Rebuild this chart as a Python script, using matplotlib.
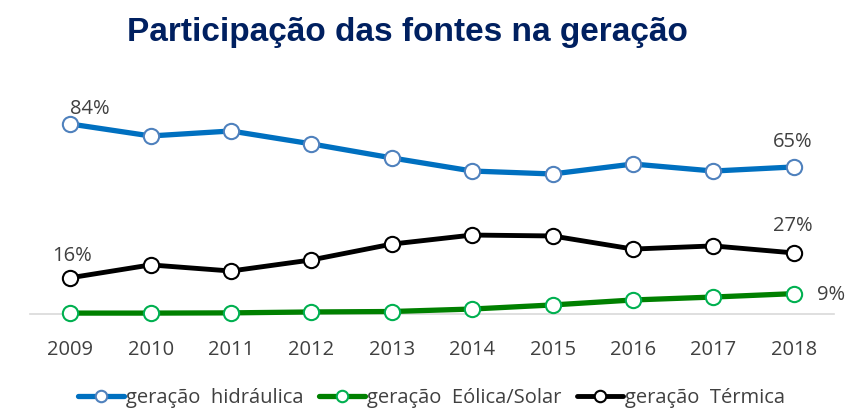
import matplotlib
matplotlib.use("Agg")
import matplotlib.pyplot as plt

anos = ["2009", "2010", "2011", "2012", "2013", "2014", "2015", "2016", "2017", "2018"]
hidraulica = [84, 78.7, 80.9, 75.2, 69.0, 63.2, 61.9, 66.3, 63.2, 65]
eolica_solar = [0.4, 0.4, 0.5, 0.9, 1.1, 2.2, 4.0, 6.2, 7.5, 9]
termica = [16, 21.7, 19.0, 23.9, 30.9, 34.9, 34.5, 28.7, 30.1, 27]

plt.rcParams['font.family'] = ['Open Sans', 'DejaVu Sans']

fig = plt.figure(figsize=(8.49, 4.09), dpi=100)
ax = fig.add_axes([30 / 849, 95 / 409, 804 / 849, 203.6 / 409])

x = list(range(len(anos)))
series = [
    (hidraulica, "geração  hidráulica", "#0070C0", "#4F81BD", 3.8),
    (eolica_solar, "geração  Eólica/Solar", "#008000", "#00B050", 3.8),
    (termica, "geração  Térmica", "#000000", "#000000", 3.5),
]
for vals, nome, cor, borda, lw in series:
    ax.plot(x, vals, color=cor, lw=lw, marker="o", markersize=11,
            markerfacecolor="white", markeredgecolor=borda, markeredgewidth=1.5,
            label=nome, solid_capstyle="round")

# rótulos de início e fim
lab = "#404040"
fs = 14.5
ax.annotate(f"{hidraulica[0]:.0f}%", (x[0], hidraulica[0]), xytext=(14, 10.5),
            textcoords="offset points", ha="center", va="center", fontsize=fs, color=lab)
ax.annotate(f"{termica[0]:.0f}%", (x[0], termica[0]), xytext=(1.5, 16),
            textcoords="offset points", ha="center", va="center", fontsize=fs, color=lab)
ax.annotate(f"{hidraulica[-1]:.0f}%", (x[-1], hidraulica[-1]), xytext=(-1, 18),
            textcoords="offset points", ha="center", va="center", fontsize=fs, color=lab)
ax.annotate(f"{termica[-1]:.0f}%", (x[-1], termica[-1]), xytext=(-1, 19.5),
            textcoords="offset points", ha="center", va="center", fontsize=fs, color=lab)
ax.annotate(f"{eolica_solar[-1]:.0f}%", (x[-1], eolica_solar[-1]), xytext=(27, -1),
            textcoords="offset points", ha="center", va="center", fontsize=fs, color=lab)

ax.set_xlim(-0.5, len(anos) - 0.5)
ax.set_ylim(0, 90)
ax.set_xticks(x)
ax.set_xticklabels(anos, fontsize=fs, color="#404040")
ax.tick_params(axis="x", length=0, pad=19)
ax.set_yticks([])
for s in ["top", "right", "left"]:
    ax.spines[s].set_visible(False)
ax.spines["bottom"].set_color("#D9D9D9")
ax.spines["bottom"].set_linewidth(1.2)
ax.spines["bottom"].set_zorder(0)
for ln in ax.lines:
    ln.set_clip_on(False)

fig.text(0.48, 0.92, "Participação das fontes na geração", ha="center", va="center",
         fontsize=24, fontweight="bold", color="#002060", family="Liberation Sans")

fig.legend(loc="center", bbox_to_anchor=(0.508, 0.027), ncol=3, frameon=False,
           fontsize=14.5, handlelength=2.3, handletextpad=0.1, columnspacing=0.75,
           markerscale=0.75, labelcolor="#404040")

fig.savefig("out.png", dpi=100)
